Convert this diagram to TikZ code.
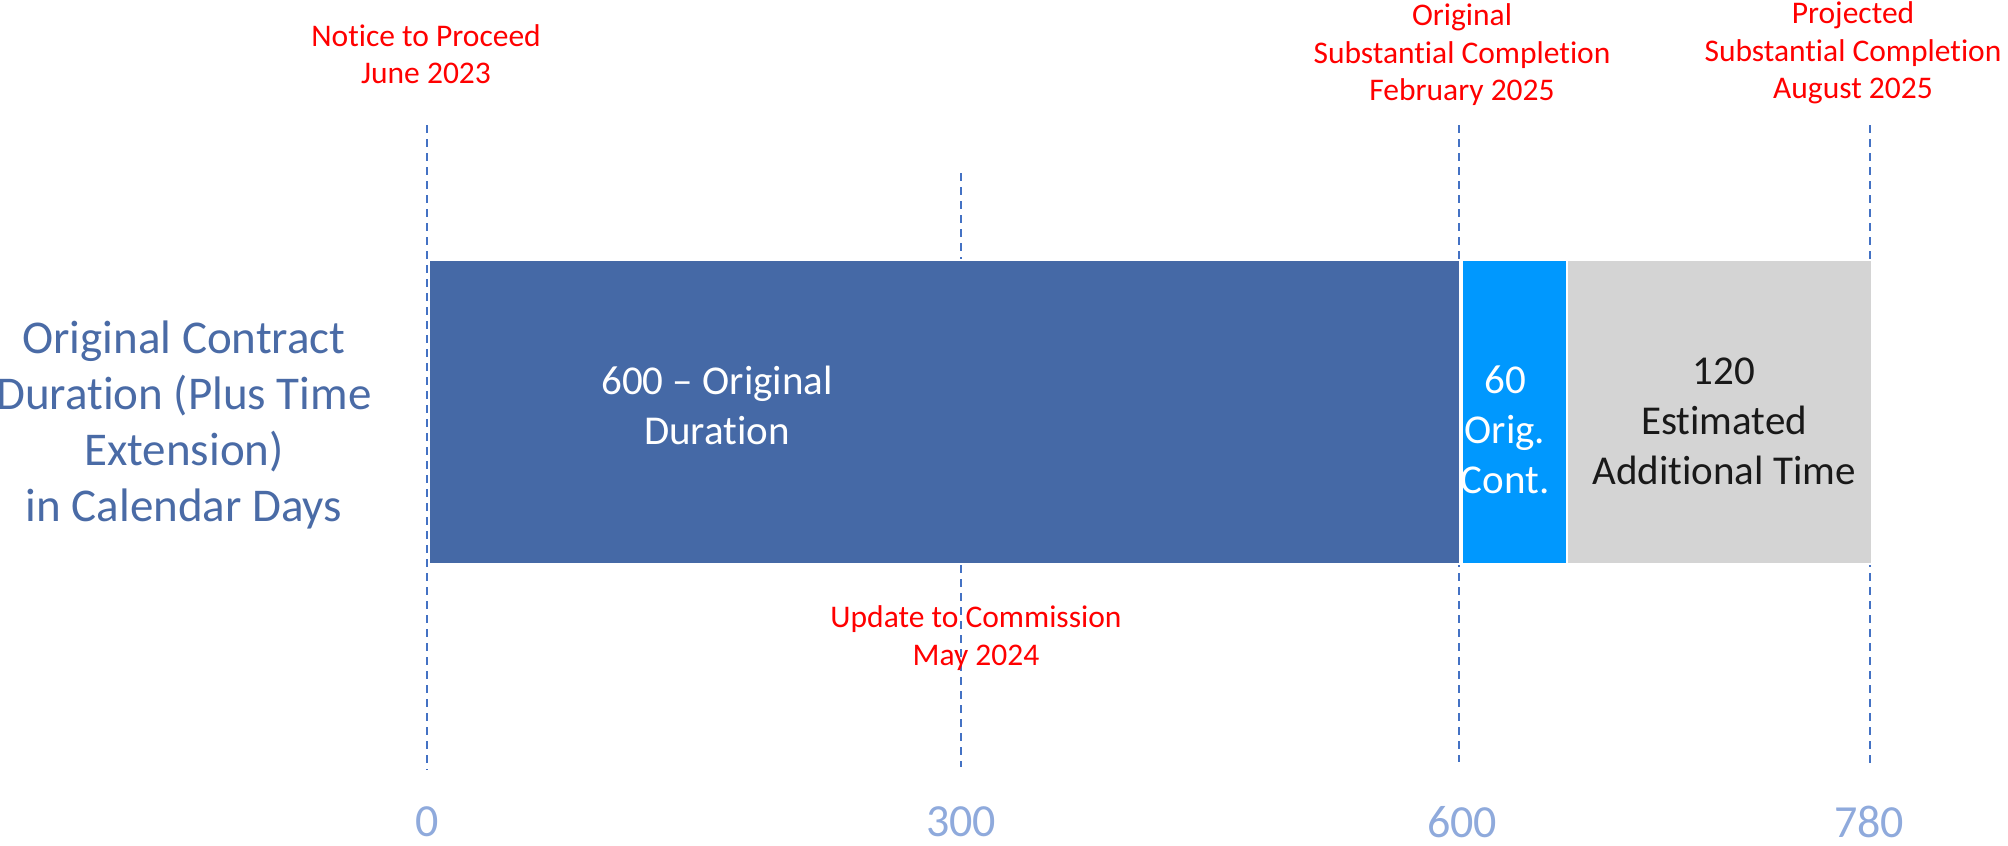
\documentclass[tikz,border=0pt]{standalone}
\usepackage{fontspec}
\setmainfont{Carlito}[Ligatures=NoCommon]

\definecolor{durblue}{HTML}{4569A6}
\definecolor{contblue}{HTML}{0098FE}
\definecolor{extgray}{HTML}{D4D4D4}
\definecolor{axisblue}{HTML}{8FAADC}
\definecolor{titleblue}{HTML}{4A6BA6}
\definecolor{lineblue}{HTML}{4472C4}

\tikzset{
	milestone/.style={text=red, align=center, inner sep=0pt, font=\fontsize{31.5}{37.5}\selectfont},
	barlabel/.style={align=center, inner sep=0pt, font=\fontsize{41}{50}\selectfont},
	daymark/.style={text=axisblue, inner sep=0pt, font=\fontsize{46}{55}\selectfont},
	datum/.style={lineblue, line width=2.5pt, dash pattern=on 8pt off 6pt},
	segment/.style={draw=white, line width=1.5pt, inner sep=0pt, anchor=north west, minimum height=304pt},
}

\begin{document}
\begin{tikzpicture}[x=1pt,y=-1pt]
	\useasboundingbox (0,0) rectangle (2008,846);
	\foreach \x/\top/\bot in {427/125/770, 961/173/767, 1459/125/762, 1870/125/765}
		\draw[datum] (\x,\top) -- (\x,\bot);

	\node[segment, fill=durblue, minimum width=1031pt] (orig) at (428,259) {};
	\node[segment, fill=contblue, minimum width=105pt] (cont) at (1461,259) {};
	\node[segment, fill=extgray, minimum width=305pt] (extra) at (1566,259) {};

	\node[barlabel, text=white] (origtxt) at (717,405) {600 -- Original\\Duration};
	\node[barlabel, text=white] (conttxt) at (1505,430) {60\\Orig.\\Cont.};
	\node[barlabel, text=black!90] (extratxt) at (1724,421) {120\\Estimated\\Additional Time};

	\node[text=titleblue, align=center, inner sep=0pt, font=\fontsize{47}{56}\selectfont] (title) at (184,425)
		{Original Contract\\Duration (Plus Time\\Extension)\\in Calendar Days};

	\node[milestone] (ntp) at (426,54) {Notice to Proceed\\June 2023};
	\node[milestone] (update) at (976,638) {Update to Commission\\May 2024};
	\node[milestone] (origsc) at (1462,55) {Original\\Substantial Completion\\February 2025};
	\node[milestone] (projsc) at (1853,53) {Projected\\Substantial Completion\\August 2025};

	\node[daymark] (d0) at (427,822) {0};
	\node[daymark] (d300) at (961,822) {300};
	\node[daymark] (d600) at (1462,822) {600};
	\node[daymark] (d780) at (1869,822) {780};
\end{tikzpicture}
\end{document}
